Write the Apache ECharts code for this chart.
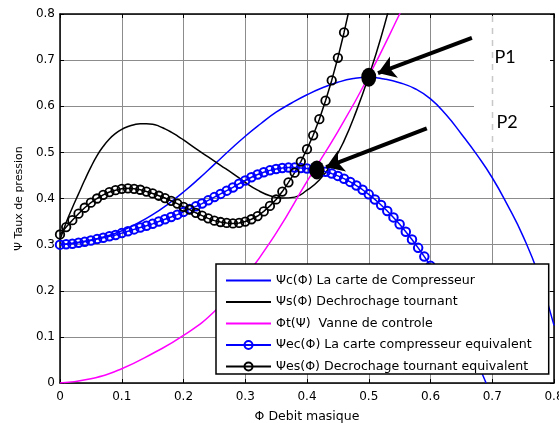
<!DOCTYPE html>
<html>
<head>
<meta charset="utf-8">
<script src="https://cdn.jsdelivr.net/npm/echarts@6/dist/echarts.min.js"></script>
<style>
html,body{margin:0;padding:0;background:#fff}
#chart{width:559px;height:423px}
</style>
</head>
<body>
<div id="chart"></div>
<script>
// axis ticks
let xTicks = [0, 0.1, 0.2, 0.3, 0.4, 0.5, 0.6, 0.7, 0.8];
let yTicks = [0, 0.1, 0.2, 0.3, 0.4, 0.5, 0.6, 0.7, 0.8];

// Ψc(Φ) carte compresseur
let phiC = [0, 0.025, 0.05, 0.075, 0.1, 0.125, 0.15, 0.175, 0.2, 0.225, 0.25, 0.275, 0.3, 0.325, 0.35, 0.375, 0.4, 0.425, 0.45, 0.475, 0.5, 0.525, 0.55, 0.575, 0.6, 0.625, 0.65, 0.675, 0.7, 0.725, 0.75, 0.775, 0.8];
let psiC = [0.300, 0.304, 0.310, 0.318, 0.330, 0.346, 0.365, 0.388, 0.414, 0.443, 0.474, 0.505, 0.535, 0.562, 0.587, 0.607, 0.625, 0.640, 0.652, 0.660, 0.663, 0.659, 0.651, 0.638, 0.616, 0.582, 0.540, 0.495, 0.445, 0.385, 0.318, 0.235, 0.125];

// Ψs(Φ) decrochage tournant
let phiS = [0, 0.01, 0.02, 0.03, 0.04, 0.05, 0.06, 0.07, 0.08, 0.09, 0.1, 0.11, 0.12, 0.13, 0.14, 0.15, 0.16, 0.17, 0.18, 0.19, 0.2, 0.22, 0.24, 0.26, 0.28, 0.3, 0.32, 0.34, 0.36, 0.38, 0.4, 0.42, 0.44, 0.46, 0.48, 0.5, 0.52, 0.54];
let psiS = [0.310, 0.348, 0.380, 0.410, 0.440, 0.468, 0.493, 0.513, 0.529, 0.541, 0.550, 0.556, 0.560, 0.562, 0.562, 0.561, 0.557, 0.551, 0.544, 0.536, 0.527, 0.508, 0.490, 0.472, 0.454, 0.435, 0.418, 0.406, 0.401, 0.403, 0.418, 0.440, 0.475, 0.525, 0.590, 0.665, 0.750, 0.850];

// Φt(Ψ) vanne
let phiT = [0, 0.05, 0.1, 0.15, 0.2, 0.25, 0.3, 0.35, 0.4, 0.45, 0.5, 0.55, 0.56];
let psiT = [0, 0.009, 0.031, 0.064, 0.103, 0.155, 0.230, 0.325, 0.437, 0.545, 0.665, 0.800, 0.830];

// Ψec(Φ) carte compresseur equivalent
let phiEc = [0, 0.01, 0.02, 0.03, 0.04, 0.05, 0.06, 0.07, 0.08, 0.09, 0.1, 0.11, 0.12, 0.13, 0.14, 0.15, 0.16, 0.17, 0.18, 0.19, 0.2, 0.21, 0.22, 0.23, 0.24, 0.25, 0.26, 0.27, 0.28, 0.29, 0.3, 0.31, 0.32, 0.33, 0.34, 0.35, 0.36, 0.37, 0.38, 0.39, 0.4, 0.41, 0.42, 0.43, 0.44, 0.45, 0.46, 0.47, 0.48, 0.49, 0.5, 0.51, 0.52, 0.53, 0.54, 0.55, 0.56, 0.57, 0.58, 0.59, 0.6, 0.61, 0.62, 0.63, 0.64, 0.65, 0.66, 0.67, 0.68, 0.69];
let psiEc = [0.300, 0.301, 0.302, 0.304, 0.306, 0.309, 0.312, 0.315, 0.318, 0.321, 0.325, 0.329, 0.333, 0.337, 0.341, 0.345, 0.350, 0.355, 0.360, 0.365, 0.371, 0.377, 0.383, 0.389, 0.396, 0.403, 0.410, 0.417, 0.424, 0.432, 0.439, 0.446, 0.452, 0.457, 0.461, 0.464, 0.466, 0.467, 0.467, 0.466, 0.465, 0.463, 0.461, 0.458, 0.454, 0.449, 0.443, 0.436, 0.428, 0.419, 0.409, 0.398, 0.386, 0.373, 0.359, 0.344, 0.328, 0.311, 0.293, 0.274, 0.254, 0.232, 0.209, 0.184, 0.157, 0.128, 0.097, 0.065, 0.032, 0.000];

// Ψes(Φ) decrochage tournant equivalent
let phiEs = [0, 0.01, 0.02, 0.03, 0.04, 0.05, 0.06, 0.07, 0.08, 0.09, 0.1, 0.11, 0.12, 0.13, 0.14, 0.15, 0.16, 0.17, 0.18, 0.19, 0.2, 0.21, 0.22, 0.23, 0.24, 0.25, 0.26, 0.27, 0.28, 0.29, 0.3, 0.31, 0.32, 0.33, 0.34, 0.35, 0.36, 0.37, 0.38, 0.39, 0.4, 0.41, 0.42, 0.43, 0.44, 0.45, 0.46, 0.47];
let psiEs = [0.322, 0.338, 0.353, 0.367, 0.380, 0.391, 0.400, 0.408, 0.414, 0.418, 0.421, 0.422, 0.421, 0.419, 0.415, 0.411, 0.406, 0.401, 0.395, 0.389, 0.382, 0.376, 0.369, 0.363, 0.357, 0.352, 0.349, 0.347, 0.346, 0.347, 0.350, 0.355, 0.362, 0.372, 0.384, 0.398, 0.415, 0.435, 0.456, 0.480, 0.507, 0.537, 0.572, 0.612, 0.656, 0.705, 0.760, 0.820];

// points de fonctionnement P1, P2 et fleches
let ptNames = ['P1', 'P2'];
let ptPhi = [0.5, 0.416];
let ptPsi = [0.663, 0.462];
let arrowFrom = [[0.667, 0.748], [0.594, 0.552]];
let arrowTo = [[0.515, 0.672], [0.431, 0.468]];

let names = [
  'Ψc(Φ) La carte de Compresseur',
  'Ψs(Φ) Dechrochage tournant',
  'Φt(Ψ)  Vanne de controle',
  'Ψec(Φ) La carte compresseur equivalent',
  'Ψes(Φ) Decrochage tournant equivalent'
];

function pairs(xs, ys){
  return xs.map((x, i) => [x, ys[i]]);
}

let font = 'DejaVu Sans, sans-serif';
let myChart = echarts.init(document.getElementById('chart'), null, {renderer: 'canvas'});

let axX = {
  type: 'value', min: 0, max: 0.8, interval: 0.1,
  axisLine: {show: true, onZero: false, lineStyle: {color: '#000', width: 1.5}},
  axisTick: {show: true, inside: true, length: 4, lineStyle: {color: '#000'}},
  splitLine: {show: false}
};
let axY = JSON.parse(JSON.stringify(axX));

// les marqueurs a y = 0 sont caches sous la legende
let ecData = pairs(phiEc, psiEc).map(p => (p[1] === 0 ? {value: p, symbol: 'none'} : p));

myChart.setOption({
  animation: false,
  backgroundColor: '#fff',
  grid: {left: 60, right: 5, top: 14, bottom: 40, outerBoundsMode: 'none', containLabel: false},
  xAxis: [
    Object.assign({}, axX, {
      position: 'bottom',
      name: 'Φ Debit masique', nameLocation: 'middle', nameGap: 27,
      nameTextStyle: {color: '#000', fontSize: 12.5, fontFamily: font},
      axisLabel: {color: '#000', fontSize: 12, fontFamily: font, margin: 8,
        formatter: v => (v === 0 ? '0' : v.toFixed(1))},
      splitLine: {show: true, lineStyle: {color: '#8c8c8c', width: 1}}
    }),
    Object.assign({}, axX, {position: 'top', axisLabel: {show: false}})
  ],
  yAxis: [
    Object.assign({}, axY, {
      position: 'left', max: 0.8,
      name: 'Ψ Taux de pression', nameLocation: 'middle', nameGap: 35,
      nameTextStyle: {color: '#000', fontSize: 11, fontFamily: font},
      axisLabel: {color: '#000', fontSize: 12, fontFamily: font, margin: 5,
        formatter: v => (v === 0 ? '0' : v.toFixed(1))},
      splitLine: {show: true, lineStyle: {color: '#8c8c8c', width: 1}}
    }),
    Object.assign({}, axY, {position: 'right', axisLabel: {show: false}})
  ],
  legend: {
    data: names.map((n, i) => (i < 3 ? {name: n, itemStyle: {opacity: 0}} : {name: n})),
    orient: 'vertical',
    left: 216, top: 264,
    padding: [10, 17, 1, 9],
    itemGap: 8.5,
    itemWidth: 45, itemHeight: 10,
    backgroundColor: '#fff',
    borderColor: '#000', borderWidth: 1.5, borderRadius: 0,
    textStyle: {color: '#000', fontSize: 12.6, fontFamily: font},
    z: 10
  },
  graphic: [
    {type: 'rect', z: 1, shape: {x: 474, y: 16, width: 76, height: 134}, style: {fill: '#fff'}},
    {type: 'line', z: 1, shape: {x1: 492.5, y1: 16, x2: 492.5, y2: 150}, style: {stroke: '#c8c8c8', lineWidth: 1.5, lineDash: [6, 6]}},
    {type: 'text', z: 5, x: 505, y: 57, style: {text: ptNames[0], fill: '#000', font: '18px Lato, sans-serif', align: 'center', verticalAlign: 'middle'}},
    {type: 'text', z: 5, x: 507, y: 122, style: {text: ptNames[1], fill: '#000', font: '18px Lato, sans-serif', align: 'center', verticalAlign: 'middle'}}
  ],
  series: [
    {
      name: names[0], type: 'line', data: pairs(phiC, psiC), smooth: true,
      symbol: 'none', color: '#0000ff', lineStyle: {color: '#0000ff', width: 1.5}
    },
    {
      name: names[1], type: 'line', data: pairs(phiS, psiS), smooth: true,
      symbol: 'none', color: '#000', lineStyle: {color: '#000', width: 1.5}
    },
    {
      name: names[2], type: 'line', data: pairs(phiT, psiT), smooth: true,
      symbol: 'none', color: '#ff00ff', lineStyle: {color: '#ff00ff', width: 1.5}
    },
    {
      name: names[3], type: 'line', data: ecData,
      symbol: 'circle', symbolSize: 8.5, showAllSymbol: true,
      color: '#0000ff',
      lineStyle: {color: '#0000ff', width: 1.5},
      itemStyle: {color: 'rgba(255,255,255,0)', borderColor: '#0000ff', borderWidth: 2}
    },
    {
      name: names[4], type: 'line', data: pairs(phiEs, psiEs),
      symbol: 'circle', symbolSize: 8.5, showAllSymbol: true,
      color: '#000',
      lineStyle: {color: '#000', width: 1.5},
      itemStyle: {color: 'rgba(255,255,255,0)', borderColor: '#000', borderWidth: 1.8}
    },
    {
      name: 'points', type: 'scatter', data: pairs(ptPhi, ptPsi),
      symbol: 'circle', symbolSize: [15, 19], itemStyle: {color: '#000', opacity: 1}, z: 6,
      markLine: {
        silent: true, animation: false,
        symbol: ['none', 'arrow'], symbolSize: 17,
        label: {show: false},
        lineStyle: {color: '#000', width: 4, type: 'solid', opacity: 1},
        data: arrowFrom.map((a, i) => [{coord: a}, {coord: arrowTo[i]}])
      }
    }
  ]
});
</script>
</body>
</html>
